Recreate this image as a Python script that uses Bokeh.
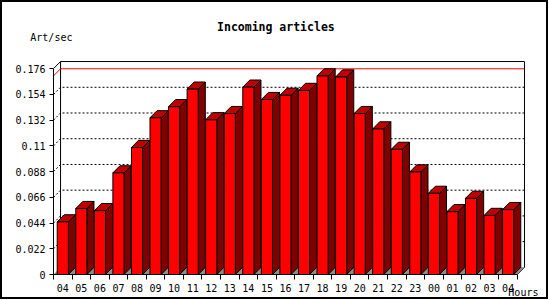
from bokeh.plotting import figure
from bokeh.models import (LinearAxis, FixedTicker, NumeralTickFormatter,
                          CustomJSTickFormatter, Range1d, Label, ColumnDataSource)
from bokeh.embed import file_html
from bokeh.resources import INLINE

# ---------------- data ----------------
hours = ["04", "05", "06", "07", "08", "09", "10", "11", "12", "13", "14", "15",
         "16", "17", "18", "19", "20", "21", "22", "23", "00", "01", "02", "03", "04"]
rates = [0.0450, 0.0564, 0.0546, 0.0869, 0.1086, 0.1340, 0.1435, 0.1585, 0.1323,
         0.1376, 0.1602, 0.1496, 0.1532, 0.1574, 0.1698, 0.1689, 0.1376, 0.1245,
         0.1070, 0.0877, 0.0694, 0.0537, 0.0651, 0.0505, 0.0555]
y_ticks = [0, 0.022, 0.044, 0.066, 0.088, 0.11, 0.132, 0.154, 0.176]
title_text = "Incoming articles"
y_title = "Art/sec"
x_title = "Hours"

# ---------------- layout constants ----------------
BORDER = 2
W, H = 544, 295            # drawing canvas inside the css border
PX_SLOT = 18.4             # pixels per category slot
PX_UNIT = 1147.73          # pixels per y unit
FR_L, FR_R, FR_T, FR_B = 51, 24, 57, 27
frame_w = W - FR_L - FR_R
frame_h = H - FR_T - FR_B
DEPTH = 7
dx = DEPTH / PX_SLOT
dy = DEPTH / PX_UNIT
n = len(rates)
ymax_axis = y_ticks[-1]
BAR_W = 0.6

FONT = "DejaVu Sans Mono"

p = figure(width=W, height=H, output_backend="svg",
           toolbar_location=None, x_axis_type=None, y_axis_type=None, title=None,
           x_range=Range1d(0, frame_w / PX_SLOT), y_range=Range1d(0, frame_h / PX_UNIT),
           min_border_left=FR_L, min_border_right=FR_R,
           min_border_top=FR_T, min_border_bottom=FR_B)
p.outline_line_color = None
p.background_fill_color = "white"
p.border_fill_color = "white"
p.xgrid.visible = False
p.ygrid.visible = False
p.styles = {"border": f"{BORDER}px solid black", "box-sizing": "content-box"}

# ---------------- back wall grid (dotted) ----------------
gx, gy = [], []
for t in y_ticks[1:-1]:
    gx.append([0, dx, n + dx])
    gy.append([t, t + dy, t + dy])
p.multi_line(gx, gy, line_color="black", line_width=1, line_dash="2 2")

# frame of the 3d box
p.multi_line([[0, dx, n + dx, n + dx, n],
              [dx, dx]],
             [[ymax_axis, ymax_axis + dy, ymax_axis + dy, dy, 0],
              [dy, ymax_axis + dy]],
             line_color="black", line_width=1)

# floor
p.patch([0, n, n + dx, dx], [0, 0, dy, dy], fill_color="#8c8c8c", line_color=None)

# max line
mx = max(rates)
p.line([0, dx, n + dx], [mx, mx + dy, mx + dy], line_color="#ff0000", line_width=1)

# ---------------- bars ----------------
lefts = [i + 0.5 - BAR_W / 2 for i in range(n)]
rights = [i + 0.5 + BAR_W / 2 for i in range(n)]
top_xs = [[l, r, r + dx, l + dx] for l, r in zip(lefts, rights)]
top_ys = [[v, v, v + dy, v + dy] for v in rates]
side_xs = [[r, r + dx, r + dx, r] for r in rights]
side_ys = [[0, dy, v + dy, v] for v in rates]

p.patches(side_xs, side_ys, fill_color="#800000", line_color="black", line_width=1)
p.patches(top_xs, top_ys, fill_color="#c00000", line_color="black", line_width=1)
src = ColumnDataSource(dict(l=lefts, r=rights, t=rates, b=[0] * n))
p.quad(left="l", right="r", top="t", bottom="b", source=src,
       fill_color="#ff0000", line_color="black", line_width=1)

# ---------------- axes ----------------
yaxis = LinearAxis(ticker=FixedTicker(ticks=y_ticks, minor_ticks=[]),
                   formatter=NumeralTickFormatter(format="0.[000]"),
                   bounds=(0, ymax_axis))
yaxis.major_tick_out = 4
yaxis.major_tick_in = 0
yaxis.major_label_standoff = 4
yaxis.major_label_text_font = FONT
yaxis.major_label_text_font_size = "10px"
yaxis.major_label_text_color = "black"
yaxis.axis_line_color = "black"
yaxis.major_tick_line_color = "black"
p.add_layout(yaxis, "left")

xaxis = LinearAxis(ticker=FixedTicker(ticks=[i + 0.5 for i in range(n)],
                                      minor_ticks=list(range(n + 1))),
                   formatter=CustomJSTickFormatter(args=dict(labels=hours),
                                                   code="return labels[Math.floor(tick)];"),
                   bounds=(0, n))
xaxis.major_tick_line_color = None
xaxis.major_tick_out = 0
xaxis.major_tick_in = 0
xaxis.minor_tick_out = 5
xaxis.minor_tick_in = 0
xaxis.minor_tick_line_color = "black"
xaxis.major_label_standoff = 4
xaxis.major_label_text_font = FONT
xaxis.major_label_text_font_size = "10px"
xaxis.major_label_text_color = "black"
xaxis.axis_line_color = "black"
p.add_layout(xaxis, "below")

# ---------------- texts (placed in the top side panel so they are not clipped) ----------------
def dxp(px):   # page pixel x -> data
    return (px - 53) / PX_SLOT

def dyp(py):   # page pixel y -> data
    return (270 - py) / PX_UNIT

p.add_layout(Label(x=dxp(273.5), y=dyp(27), text=title_text, text_align="center",
                   text_baseline="middle", text_font=FONT, text_font_style="bold",
                   text_font_size="11.5px", text_color="black"), "above")
p.add_layout(Label(x=dxp(30), y=dyp(37), text=y_title, text_align="left",
                   text_baseline="middle", text_font=FONT,
                   text_font_size="10px", text_color="black"), "above")
p.add_layout(Label(x=dxp(504), y=dyp(287.5), text=x_title, text_align="left",
                   text_baseline="middle", text_font=FONT,
                   text_font_size="10px", text_color="black"), "above")

open("out.html", "w").write(file_html(p, INLINE))
